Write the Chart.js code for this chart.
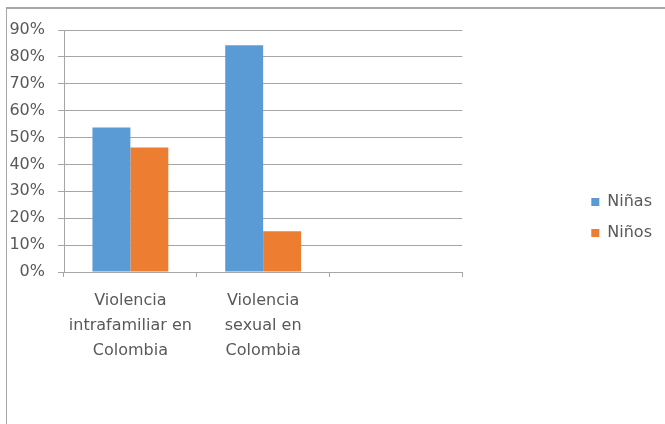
<!DOCTYPE html>
<html>
<head>
  <title>Violencia en Colombia</title>
  <style>
    body { margin: 0; background: #fff; }
    #wrap { position: relative; width: 665px; height: 424px; }
    #frame {
      position: absolute; left: 6px; top: 7px; right: 0; bottom: 0;
      border-top: 2px solid #a6a6a6; border-left: 1px solid #a6a6a6;
      pointer-events: none;
    }
  </style>
</head>
<body>
  <div id="wrap">
    <canvas id="chart" width="665" height="424"></canvas>
    <div id="frame"></div>
  </div>

  <script src="https://cdn.jsdelivr.net/npm/chart.js"></script>
  <script>
    // data
    const categories = [['Violencia', 'intrafamiliar en', 'Colombia'], ['Violencia', 'sexual en', 'Colombia'], ''];
    const ninas = [53.7, 84.3, null];
    const ninos = [46.3, 15.2, null];
    const seriesNames = ['Niñas', 'Niños'];
    const yTicks = [0, 10, 20, 30, 40, 50, 60, 70, 80, 90];

    const grey = '#a6a6a6';
    const textColor = '#595959';
    const font = { family: 'DejaVu Sans', size: 16 };

    const ctx = document.getElementById('chart').getContext('2d');
    const chart = new Chart(ctx, {
      type: 'bar',
      data: {
        labels: categories,
        datasets: [
          { label: seriesNames[0], data: ninas, backgroundColor: '#5b9bd5' },
          { label: seriesNames[1], data: ninos, backgroundColor: '#ed7d31' }
        ]
      },
      options: {
        responsive: false,
        animation: false,
        categoryPercentage: 2 / 3.5,
        barPercentage: 1,
        layout: { padding: { top: 30, left: 0, right: 3, bottom: 19 } },
        plugins: {
          tooltip: { enabled: false },
          legend: {
            position: 'right',
            labels: {
              color: textColor,
              font: font,
              boxWidth: 8,
              boxHeight: 8,
              padding: 15
            }
          }
        },
        scales: {
          x: {
            grid: { drawOnChartArea: false, drawTicks: true, tickLength: 5, color: grey, offset: true },
            border: { color: grey },
            ticks: { color: textColor, font: Object.assign({ lineHeight: 1.5625 }, font), padding: 11, maxRotation: 0, autoSkip: false },
            afterFit: s => { s.height = 133; }
          },
          y: {
            min: 0,
            max: 90,
            afterBuildTicks: s => { s.ticks = yTicks.map(v => ({ value: v })); },
            grid: { color: grey, tickLength: 6 },
            border: { color: grey },
            ticks: { color: textColor, font: font, padding: 13, callback: v => v + '%' },
            afterFit: s => { s.width = 64; }
          },
          // empty axis that only holds the gap between plot and legend
          pad: {
            type: 'linear',
            position: 'right',
            display: true,
            grid: { display: false },
            border: { display: false },
            ticks: { display: false },
            afterFit: s => { s.width = 114; }
          }
        }
      }
    });
  </script>
</body>
</html>
